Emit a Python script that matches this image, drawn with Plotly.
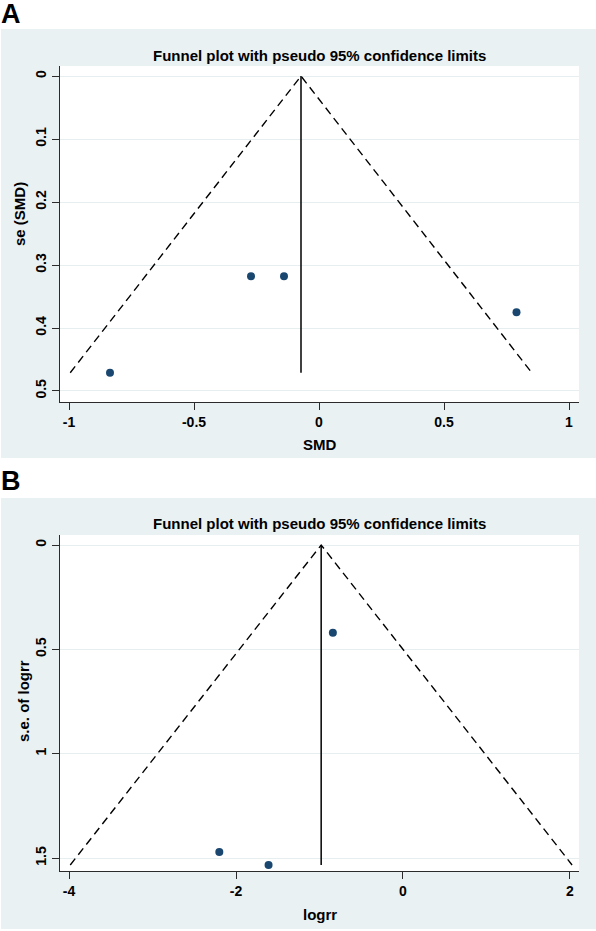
import plotly.graph_objects as go

W, H = 596, 931

# ---------------- Data: Panel A ----------------
a_smd = [-0.836, -0.272, -0.140, 0.790]
a_se = [0.471, 0.318, 0.318, 0.375]
a_pooled = -0.072
a_funnel_x = [-0.995, -0.072, 0.851]
a_funnel_y = [0.471, 0.0, 0.471]
a_xticks = [-1, -0.5, 0, 0.5, 1]
a_xticklabels = ["-1", "-0.5", "0", "0.5", "1"]
a_yticks = [0, 0.1, 0.2, 0.3, 0.4, 0.5]
a_yticklabels = ["0", "0.1", "0.2", "0.3", "0.4", "0.5"]

# ---------------- Data: Panel B ----------------
b_logrr = [-0.84, -2.20, -1.61]
b_se = [0.420, 1.471, 1.533]
b_pooled = -0.98
b_funnel_x = [-3.985, -0.98, 2.025]
b_funnel_y = [1.533, 0.0, 1.533]
b_xticks = [-4, -2, 0, 2]
b_xticklabels = ["-4", "-2", "0", "2"]
b_yticks = [0, 0.5, 1, 1.5]
b_yticklabels = ["0", "0.5", "1", "1.5"]

TITLE = "Funnel plot with pseudo 95% confidence limits"

BG = "#E9F1F3"
GRID = "#E6EEF0"
NAVY = "#1A476F"
AX = "#2b2b2b"
FONT = "Liberation Sans"


def px(x):
    return x / W


def py(y):
    return 1 - y / H


fig = go.Figure()

DASH = dict(color="black", width=1.4, dash="8px,5px")

# Panel A traces
fig.add_trace(go.Scatter(x=a_funnel_x, y=a_funnel_y, mode="lines", line=DASH,
                         xaxis="x", yaxis="y", hoverinfo="skip"))
fig.add_trace(go.Scatter(x=[a_pooled, a_pooled], y=[0, max(a_se)], mode="lines",
                         line=dict(color="black", width=1.5),
                         xaxis="x", yaxis="y", hoverinfo="skip"))
fig.add_trace(go.Scatter(x=a_smd, y=a_se, mode="markers",
                         marker=dict(color=NAVY, size=8),
                         xaxis="x", yaxis="y"))

# Panel B traces
fig.add_trace(go.Scatter(x=b_funnel_x, y=b_funnel_y, mode="lines", line=DASH,
                         xaxis="x2", yaxis="y2", hoverinfo="skip"))
fig.add_trace(go.Scatter(x=[b_pooled, b_pooled], y=[0, max(b_se)], mode="lines",
                         line=dict(color="black", width=1.5),
                         xaxis="x2", yaxis="y2", hoverinfo="skip"))
fig.add_trace(go.Scatter(x=b_logrr, y=b_se, mode="markers",
                         marker=dict(color=NAVY, size=8),
                         xaxis="x2", yaxis="y2"))

tickfont = dict(family=FONT, size=14, color="black", weight="bold")

common_x = dict(showline=True, linecolor=AX, linewidth=1, ticks="outside",
                ticklen=7, tickcolor=AX, tickwidth=1, showgrid=False,
                zeroline=False, tickfont=tickfont)
common_y = dict(showline=True, linecolor=AX, linewidth=1, ticks="outside",
                ticklen=7, tickcolor=AX, tickwidth=1, showgrid=True,
                gridcolor=GRID, gridwidth=1, zeroline=False,
                tickfont=tickfont, tickangle=-90)

A_left, A_right, A_top, A_bot = 60, 579, 66, 402
B_left, B_right, B_top, B_bot = 60, 579, 535, 871

fig.update_layout(
    width=W, height=H,
    margin=dict(l=0, r=0, t=0, b=0),
    paper_bgcolor="white",
    plot_bgcolor="rgba(0,0,0,0)",
    showlegend=False,
    xaxis=dict(domain=[px(A_left), px(A_right)], range=[-1.036, 1.04],
               anchor="y", tickvals=a_xticks, ticktext=a_xticklabels, **common_x),
    yaxis=dict(domain=[py(A_bot), py(A_top)], range=[0.5175, -0.016],
               anchor="x", tickvals=a_yticks, ticktext=a_yticklabels, **common_y),
    xaxis2=dict(domain=[px(B_left), px(B_right)], range=[-4.108, 2.108],
                anchor="y2", tickvals=b_xticks, ticktext=b_xticklabels, **common_x),
    yaxis2=dict(domain=[py(B_bot), py(B_top)], range=[1.562, -0.048],
                anchor="x2", tickvals=b_yticks, ticktext=b_yticklabels, **common_y),
)

shapes = []
shapes.append(dict(type="rect", xref="paper", yref="paper", x0=px(1), x1=1,
                   y0=py(458), y1=py(29), fillcolor=BG, line=dict(width=0), layer="below"))
shapes.append(dict(type="rect", xref="paper", yref="paper", x0=px(1), x1=1,
                   y0=py(929), y1=py(498), fillcolor=BG, line=dict(width=0), layer="below"))
shapes.append(dict(type="rect", xref="paper", yref="paper", x0=px(A_left), x1=px(A_right),
                   y0=py(A_bot), y1=py(A_top), fillcolor="white", line=dict(width=0), layer="below"))
shapes.append(dict(type="rect", xref="paper", yref="paper", x0=px(B_left), x1=px(B_right),
                   y0=py(B_bot), y1=py(B_top), fillcolor="white", line=dict(width=0), layer="below"))
fig.update_layout(shapes=shapes)

ann = []


def text_ann(x, y, text, size, angle=0, xanchor="center", yanchor="middle"):
    ann.append(dict(x=px(x), y=py(y), xref="paper", yref="paper", text=text,
                    showarrow=False, textangle=angle, xanchor=xanchor, yanchor=yanchor,
                    font=dict(family=FONT, size=size, color="black", weight="bold")))


text_ann(-1, 14, "A", 27, xanchor="left")
text_ann(-1, 481, "B", 27, xanchor="left")
text_ann(319.5, 55, TITLE, 15)
text_ann(319.5, 523, TITLE, 15)
text_ann(320, 444, "SMD", 15)
text_ann(320, 914, "logrr", 15)
text_ann(20, 214, "se (SMD)", 15, angle=-90)
text_ann(23, 701, "s.e. of logrr", 15, angle=-90)

fig.update_layout(annotations=ann)

fig.write_html("out.html",
               config={"displayModeBar": False},
               post_script="document.body.style.margin='0';document.body.style.padding='0';")
